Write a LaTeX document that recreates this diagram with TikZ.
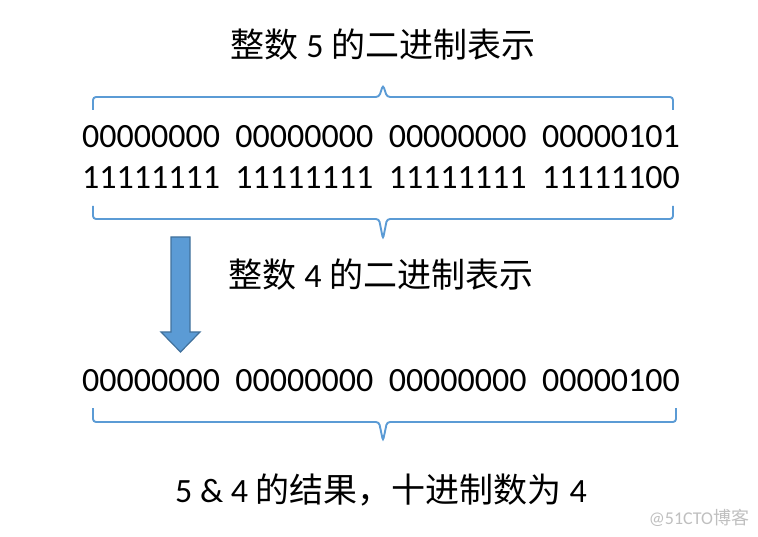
\documentclass[tikz,border=0pt]{standalone}
\usepackage{fontspec}
\setmainfont{Carlito}
\newfontfamily\cjk{Noto Sans CJK SC}
\usetikzlibrary{positioning}
\definecolor{braceblue}{HTML}{5B9BD5}
\definecolor{arrowedge}{HTML}{41719C}

\begin{document}
\begin{tikzpicture}[x=1pt,y=-1pt,
    label text/.style={inner sep=0pt,font=\fontsize{34}{40}\selectfont},
    bits/.style={inner sep=0pt,font=\fontsize{34}{40}\selectfont},
    bracket/.style={draw=braceblue,line width=1.9pt,rounded corners=3pt},
    mark text/.style={inner sep=0pt,text=black!25,font=\fontsize{18}{20}\selectfont}]

    \useasboundingbox (0,0) rectangle (758,537);

    \node[label text] (title5) at (383,45) {{\cjk 整数} 5 {\cjk 的二进制表示}};

    \node[bits] (row5) at (381,137) {00000000\ \ 00000000\ \ 00000000\ \ 00000101};
    \node[bits] (rowneg) at (381,178) {11111111\ \ 11111111\ \ 11111111\ \ 11111100};

    \node[label text] (title4) at (381,275) {{\cjk 整数} 4 {\cjk 的二进制表示}};

    \node[bits] (row4) at (381,381) {00000000\ \ 00000000\ \ 00000000\ \ 00000100};

    \node[label text] (result) at (381,490) {5 \& 4 {\cjk 的结果，十进制数为} 4};

    \node[mark text] (mark) at (699,518) {@51CTO{\cjk 博客}};

        % braces
        \draw[bracket] (93,110) -- (93,97) -- (379,97) -- (383,85) -- (387,97) -- (673,97) -- (673,110);
        \draw[bracket] (93,206) -- (93,219) -- (379,219) -- (383,239) -- (387,219) -- (673,219) -- (673,206);
        \draw[bracket] (93,408) -- (93,422) -- (379,422) -- (383,441) -- (387,422) -- (676,422) -- (676,408);

        % arrow
        \draw[fill=braceblue,draw=arrowedge,line width=1.2pt,line join=miter]
            (171,237) -- (190,237) -- (190,332) -- (200,332) -- (180.5,352)
            -- (161,332) -- (171,332) -- cycle;
\end{tikzpicture}
\end{document}
